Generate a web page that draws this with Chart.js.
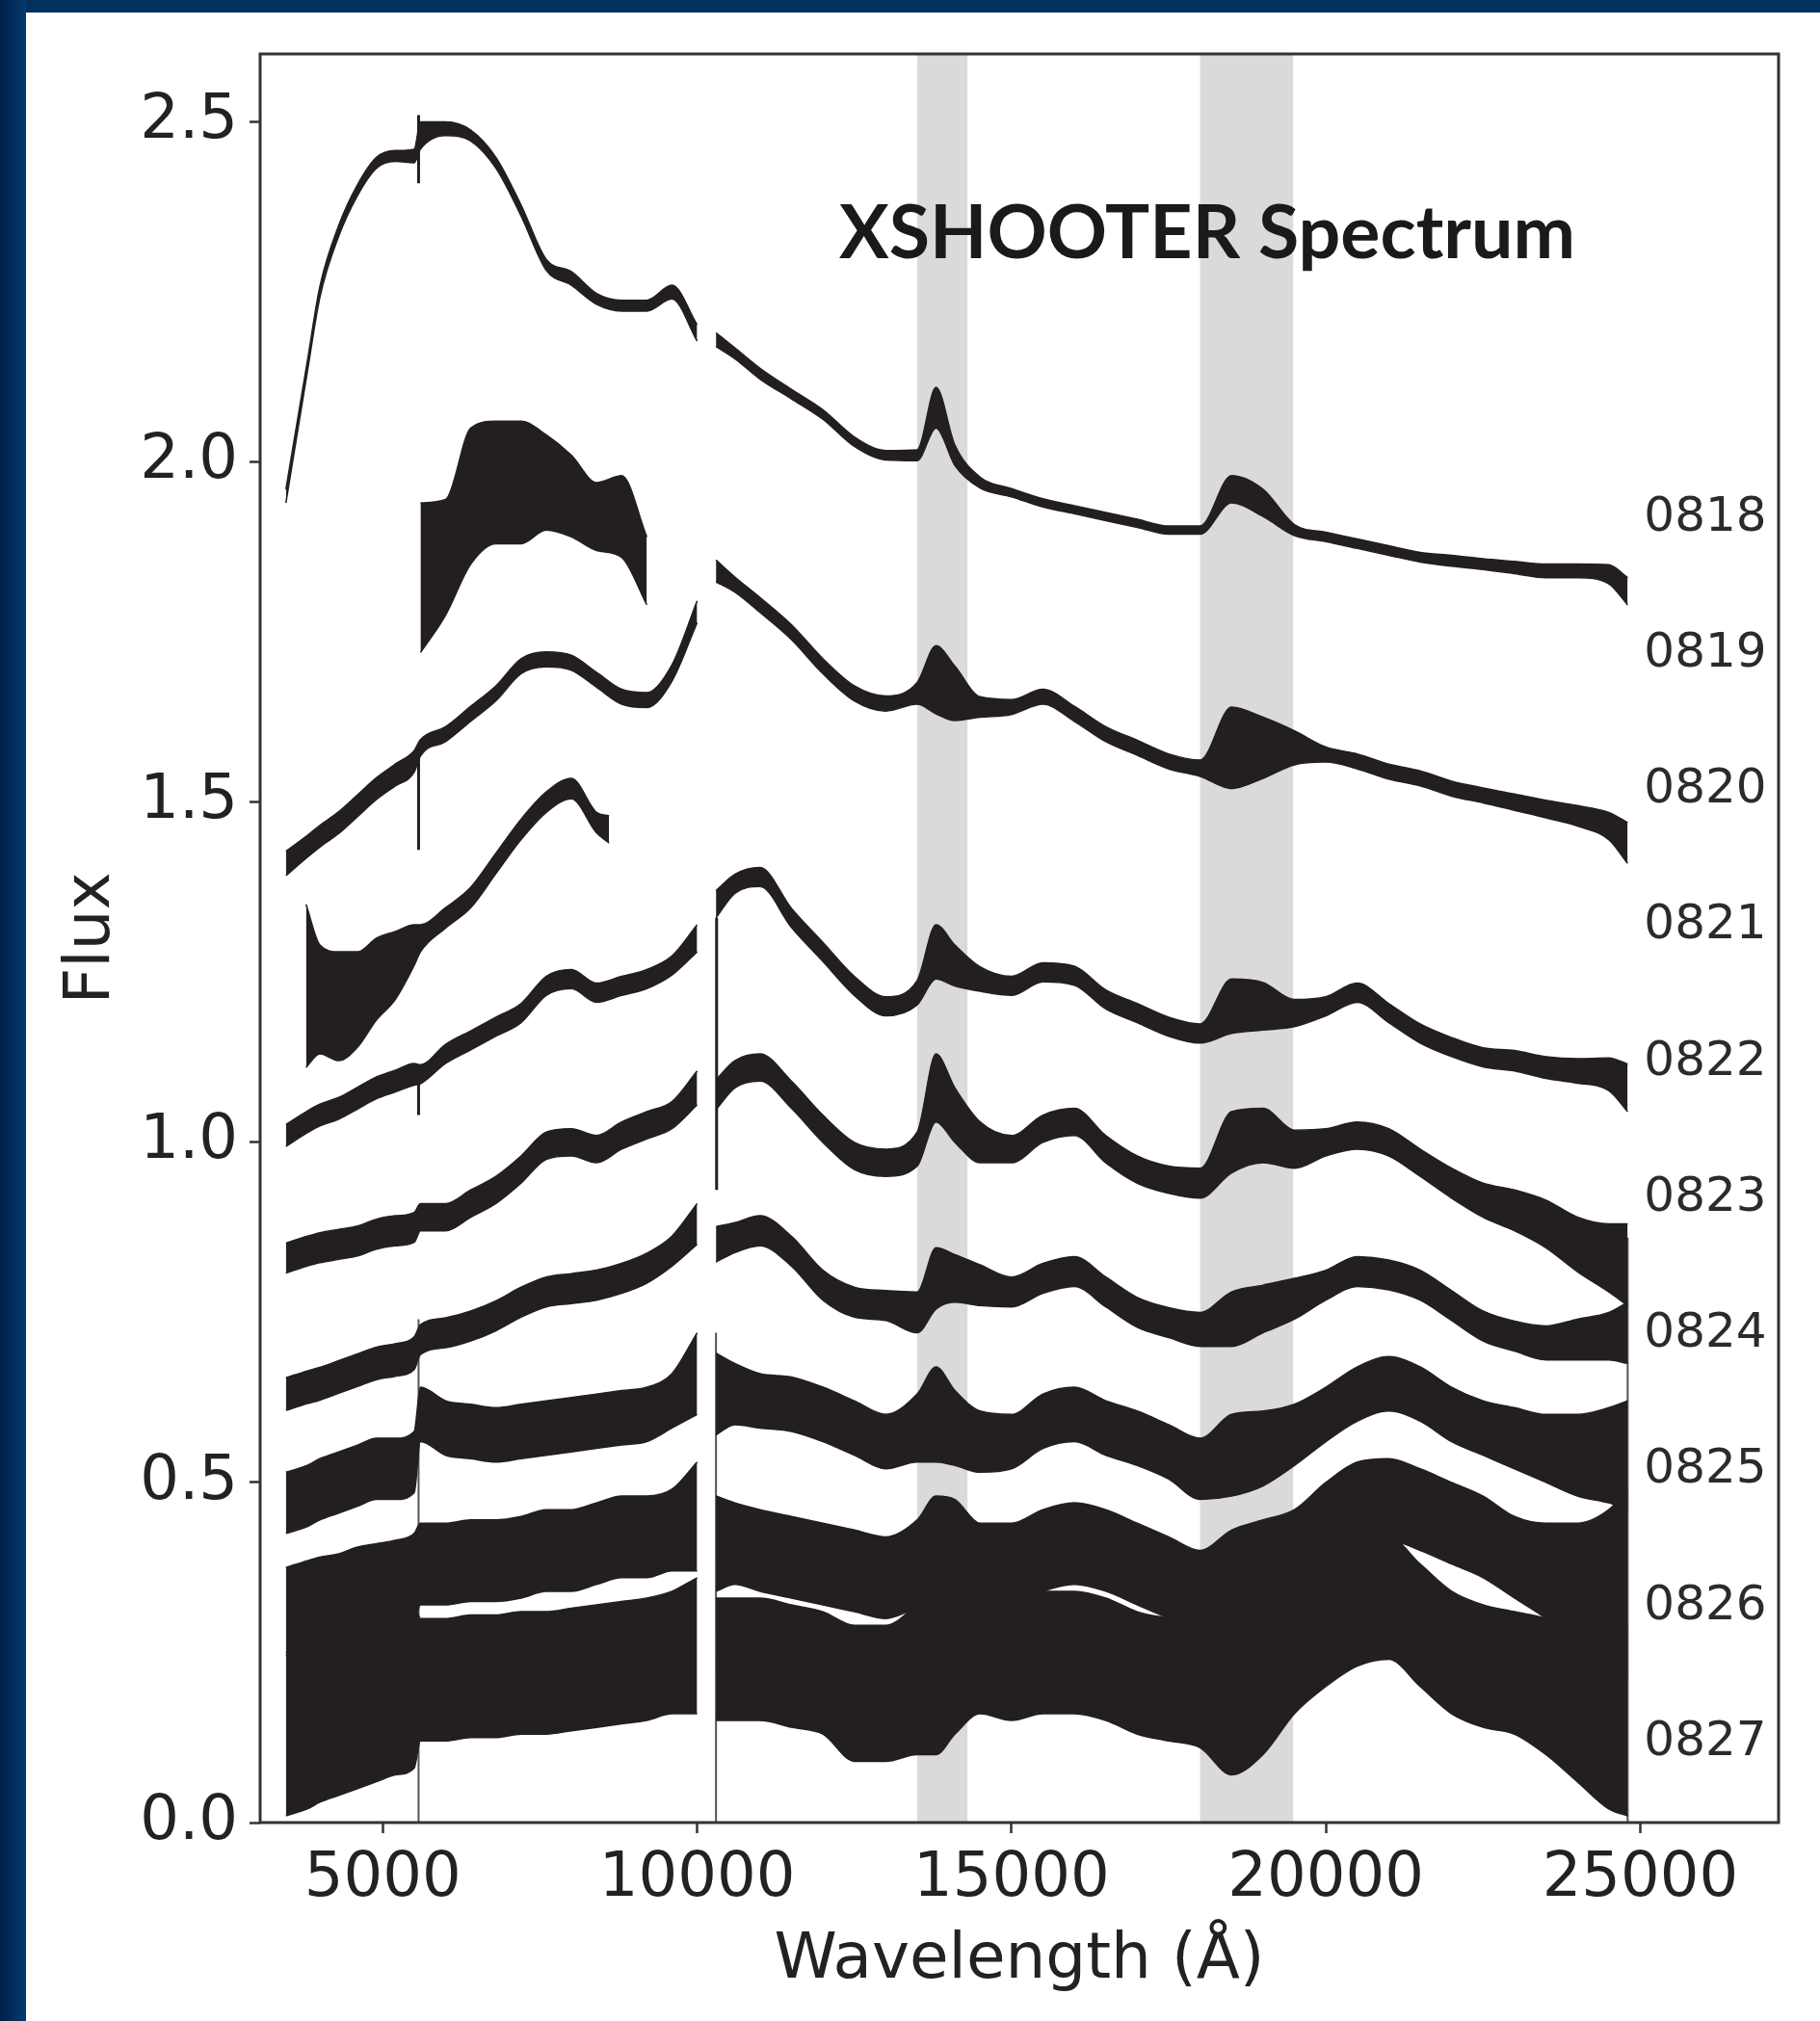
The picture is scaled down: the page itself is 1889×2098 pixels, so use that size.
<!DOCTYPE html>
<html>
<head>
<meta charset="utf-8">
<script src="https://cdn.jsdelivr.net/npm/chart.js@4.4.1/dist/chart.umd.min.js"></script>
<style>
  html, body { margin: 0; padding: 0; width: 1889px; height: 2098px; overflow: hidden; background: #02305f; }
  #edge { position: absolute; left: 0; top: 0; width: 27px; height: 2098px; background: linear-gradient(to right, #00214a, #063a6e); }
  #panel { position: absolute; left: 27px; top: 13px; right: 0; bottom: 0; background: #fff; }
  #chart { position: absolute; left: 0; top: 0; }
</style>
</head>
<body>
<div id="edge"></div>
<div id="panel"></div>
<canvas id="chart" width="1889" height="2098"></canvas>
<script>
// shared wavelength grid (Å); null column at 10150 = VIS/NIR gap
const WL = [3460,3800,4000,4300,4600,4900,5200,5500,
  5600,6000,6400,6800,7200,7600,8000,8400,8800,9200,9600,10000,
  10150,
  10300,10600,11000,11500,12000,12500,13000,13500,13800,14100,14500,15000,15500,16000,16500,17000,17500,18000,18500,19000,19500,20000,20500,21000,21500,22000,22500,23000,23500,24000,24500,24800];

// flux (offset) and noise half-width
const F0818 = [1.95,2.14,2.25,2.34,2.40,2.44,2.45,2.45, 2.48,2.49,2.48,2.44,2.37,2.29,2.27,2.24,2.23,2.23,2.25,2.19, null, 2.18,2.16,2.13,2.10,2.07,2.03,2.01,2.01,2.08,2.01,1.97,1.955,1.94,1.93,1.92,1.91,1.90,1.90,1.96,1.94,1.90,1.89,1.88,1.87,1.86,1.855,1.85,1.845,1.84,1.84,1.835,1.81];
const S0818 = [0.01,0.008,0.008,0.008,0.008,0.008,0.008,0.01, 0.02,0.01,0.008,0.008,0.008,0.008,0.01,0.008,0.008,0.008,0.01,0.012, null, 0.01,0.008,0.008,0.007,0.007,0.007,0.007,0.008,0.03,0.015,0.008,0.006,0.006,0.006,0.006,0.006,0.006,0.006,0.02,0.02,0.008,0.007,0.007,0.007,0.007,0.008,0.008,0.009,0.01,0.01,0.014,0.02];

const WL0819 = [5600,6000,6400,6800,7200,7600,8000,8400,8800,9200];
const F0819 = [1.83,1.86,1.95,1.97,1.97,1.97,1.95,1.92,1.92,1.84];
const S0819 = [0.11,0.085,0.10,0.09,0.09,0.07,0.06,0.05,0.06,0.05];

const F0820 = [1.41,1.435,1.45,1.47,1.495,1.52,1.54,1.56, 1.58,1.60,1.63,1.66,1.70,1.71,1.705,1.68,1.655,1.65,1.69,1.78, null, 1.84,1.82,1.79,1.75,1.70,1.66,1.645,1.66,1.68,1.66,1.64,1.64,1.655,1.63,1.60,1.58,1.56,1.55,1.58,1.58,1.58,1.57,1.56,1.545,1.535,1.52,1.51,1.50,1.49,1.48,1.465,1.44];
const S0820 = [0.018,0.016,0.016,0.016,0.016,0.016,0.016,0.016, 0.012,0.011,0.011,0.011,0.011,0.011,0.011,0.011,0.011,0.011,0.012,0.016, null, 0.016,0.011,0.011,0.011,0.011,0.011,0.011,0.016,0.05,0.04,0.015,0.011,0.011,0.011,0.011,0.011,0.011,0.012,0.06,0.045,0.025,0.011,0.011,0.011,0.011,0.011,0.011,0.012,0.013,0.015,0.02,0.03];

const WL0821 = [3780,4000,4300,4600,4900,5200,5500,5600,6000,6400,6800,7200,7600,8000,8400,8600];
const F0821 = [1.23,1.21,1.20,1.21,1.24,1.26,1.29,1.30,1.33,1.36,1.41,1.46,1.50,1.52,1.47,1.46];
const S0821 = [0.12,0.08,0.08,0.07,0.06,0.05,0.03,0.02,0.015,0.015,0.015,0.015,0.015,0.015,0.015,0.02];

const F0822 = [1.01,1.03,1.04,1.05,1.065,1.08,1.09,1.10, 1.10,1.13,1.15,1.17,1.19,1.23,1.24,1.22,1.23,1.24,1.26,1.30, null, 1.35,1.38,1.39,1.33,1.28,1.23,1.20,1.22,1.28,1.26,1.24,1.23,1.25,1.245,1.21,1.19,1.17,1.16,1.20,1.20,1.19,1.20,1.22,1.19,1.16,1.14,1.125,1.12,1.11,1.105,1.10,1.08];
const S0822 = [0.016,0.016,0.016,0.016,0.016,0.016,0.016,0.016, 0.014,0.014,0.014,0.014,0.014,0.014,0.014,0.014,0.014,0.014,0.014,0.02, null, 0.02,0.014,0.014,0.014,0.014,0.014,0.014,0.018,0.04,0.03,0.018,0.014,0.014,0.014,0.014,0.014,0.014,0.014,0.04,0.035,0.02,0.014,0.014,0.014,0.014,0.014,0.014,0.015,0.016,0.018,0.024,0.035];

const F0823 = [0.83,0.84,0.845,0.85,0.855,0.865,0.87,0.875, 0.89,0.89,0.91,0.93,0.96,0.995,1.00,0.99,1.01,1.025,1.04,1.08, null, 1.07,1.10,1.11,1.07,1.02,0.98,0.97,0.99,1.08,1.04,1.00,0.99,1.02,1.03,0.99,0.96,0.945,0.94,1.00,1.01,0.99,1.00,1.01,1.00,0.97,0.94,0.915,0.90,0.88,0.85,0.83,0.82];
const S0823 = [0.022,0.022,0.022,0.022,0.022,0.022,0.022,0.022, 0.02,0.02,0.02,0.02,0.02,0.02,0.02,0.02,0.02,0.02,0.02,0.025, null, 0.022,0.02,0.02,0.02,0.02,0.02,0.02,0.025,0.05,0.04,0.03,0.02,0.02,0.02,0.02,0.02,0.02,0.022,0.045,0.04,0.028,0.02,0.02,0.02,0.02,0.022,0.025,0.03,0.035,0.04,0.05,0.06];

const F0824 = [0.63,0.64,0.645,0.655,0.665,0.675,0.68,0.69, 0.71,0.72,0.73,0.745,0.765,0.78,0.785,0.79,0.80,0.815,0.84,0.88, null, 0.85,0.86,0.87,0.84,0.79,0.765,0.76,0.75,0.80,0.80,0.79,0.78,0.80,0.81,0.78,0.75,0.735,0.725,0.74,0.755,0.77,0.79,0.81,0.805,0.79,0.76,0.73,0.715,0.705,0.71,0.715,0.72];
const S0824 = [0.024,0.024,0.024,0.024,0.024,0.024,0.024,0.024, 0.022,0.022,0.022,0.022,0.022,0.022,0.022,0.022,0.022,0.022,0.022,0.03, null, 0.026,0.022,0.022,0.022,0.022,0.022,0.022,0.03,0.045,0.035,0.03,0.022,0.022,0.022,0.022,0.022,0.022,0.025,0.04,0.035,0.03,0.022,0.022,0.022,0.022,0.022,0.022,0.022,0.025,0.03,0.035,0.045];

const F0825 = [0.47,0.48,0.49,0.50,0.51,0.52,0.52,0.53, 0.60,0.58,0.575,0.57,0.575,0.58,0.585,0.59,0.595,0.60,0.62,0.66, null, 0.63,0.63,0.62,0.615,0.60,0.58,0.56,0.58,0.60,0.58,0.56,0.56,0.59,0.60,0.58,0.565,0.545,0.52,0.54,0.55,0.57,0.60,0.63,0.645,0.63,0.60,0.58,0.565,0.55,0.54,0.54,0.54];
const S0825 = [0.045,0.045,0.045,0.045,0.045,0.045,0.045,0.045, 0.04,0.04,0.04,0.04,0.04,0.04,0.04,0.04,0.04,0.04,0.04,0.06, null, 0.06,0.045,0.04,0.04,0.04,0.04,0.04,0.05,0.07,0.055,0.045,0.04,0.04,0.04,0.04,0.04,0.04,0.045,0.06,0.055,0.045,0.04,0.04,0.04,0.04,0.04,0.04,0.045,0.05,0.06,0.07,0.08];

const F0826 = [0.31,0.32,0.325,0.33,0.34,0.345,0.35,0.36, 0.38,0.38,0.385,0.385,0.39,0.40,0.40,0.41,0.42,0.42,0.43,0.45, null, 0.41,0.41,0.40,0.39,0.38,0.37,0.36,0.38,0.40,0.40,0.38,0.38,0.40,0.41,0.40,0.38,0.36,0.34,0.35,0.37,0.40,0.44,0.47,0.475,0.46,0.44,0.42,0.39,0.37,0.35,0.35,0.35];
const S0826 = [0.065,0.065,0.065,0.065,0.065,0.065,0.065,0.065, 0.06,0.06,0.06,0.06,0.06,0.06,0.06,0.06,0.06,0.06,0.06,0.08, null, 0.07,0.06,0.06,0.06,0.06,0.06,0.06,0.065,0.08,0.075,0.06,0.06,0.06,0.06,0.06,0.06,0.06,0.06,0.08,0.075,0.06,0.06,0.06,0.06,0.06,0.06,0.06,0.06,0.07,0.09,0.11,0.14];

const F0827 = [0.13,0.14,0.15,0.16,0.17,0.18,0.19,0.20, 0.21,0.21,0.215,0.215,0.22,0.22,0.225,0.23,0.235,0.24,0.25,0.26, null, 0.24,0.24,0.24,0.23,0.22,0.19,0.19,0.21,0.22,0.24,0.25,0.24,0.25,0.25,0.24,0.22,0.21,0.20,0.19,0.21,0.25,0.29,0.32,0.33,0.29,0.25,0.23,0.22,0.20,0.17,0.15,0.15];
const S0827 = [0.12,0.12,0.12,0.12,0.12,0.12,0.12,0.12, 0.09,0.09,0.09,0.09,0.09,0.09,0.09,0.09,0.09,0.09,0.09,0.1, null, 0.09,0.09,0.09,0.09,0.09,0.1,0.1,0.11,0.12,0.11,0.09,0.09,0.09,0.09,0.09,0.09,0.09,0.09,0.12,0.11,0.09,0.09,0.09,0.09,0.09,0.09,0.09,0.09,0.1,0.11,0.13,0.14];

// arm joins where some spectra drop to zero
const DROP_WL = [5570, 10300, 24800];
const DROP_TOP = [0.74, 0.72, 0.86];
// single-pixel spikes at the arm joins
const SPIKE_WL = [5570, 5570, 5570, 10310, 10310];
const SPIKE_LO = [2.41, 1.43, 1.04, 1.07, 0.93];
const SPIKE_HI = [2.51, 1.57, 1.10, 1.33, 1.08];

const NAMES = ['0818','0819','0820','0821','0822','0823','0824','0825','0826','0827'];
const LABEL_Y = [1.925,1.725,1.525,1.325,1.125,0.925,0.725,0.525,0.325,0.125];
const LABEL_WL = 25060;
const BANDS = [[13500, 14300], [18000, 19480]];
const X_TICKS = [5000, 10000, 15000, 20000, 25000];
const Y_TICKS = [0, 0.5, 1.0, 1.5, 2.0, 2.5];
const TITLE = 'XSHOOTER Spectrum';
const TITLE_AT = [12260, 2.30];

const SPECTRA = [
  [WL, F0818, S0818], [WL0819, F0819, S0819], [WL, F0820, S0820], [WL0821, F0821, S0821],
  [WL, F0822, S0822], [WL, F0823, S0823], [WL, F0824, S0824], [WL, F0825, S0825],
  [WL, F0826, S0826], [WL, F0827, S0827]
];

const INK = '#231f20';
const edge = ([wl, f, s], sign) => wl.map((x, i) => ({ x, y: f[i] == null ? null : f[i] + sign * s[i] }));
const line = { pointRadius: 0, spanGaps: false, cubicInterpolationMode: 'monotone' };

const datasets = [];
SPECTRA.forEach(sp => {
  datasets.push({ ...line, data: edge(sp, 1), fill: '+1', backgroundColor: INK, borderColor: INK, borderWidth: 1.5 });
  datasets.push({ ...line, data: edge(sp, -1), fill: false, borderColor: INK, borderWidth: 1.5 });
});
const drops = [];
DROP_WL.forEach((x, i) => { drops.push({ x, y: DROP_TOP[i] }, { x, y: 0 }, { x, y: null }); });
datasets.push({ data: drops, fill: false, borderColor: '#555', borderWidth: 2, pointRadius: 0, spanGaps: false });
const spikes = [];
SPIKE_WL.forEach((x, i) => { spikes.push({ x, y: SPIKE_HI[i] }, { x, y: SPIKE_LO[i] }, { x, y: null }); });
datasets.push({ data: spikes, fill: false, borderColor: INK, borderWidth: 3, pointRadius: 0, spanGaps: false });

const decor = {
  id: 'decor',
  beforeDatasetsDraw(chart) {
    const { ctx, chartArea: a, scales: { x } } = chart;
    ctx.save();
    ctx.fillStyle = '#dadadd';
    BANDS.forEach(([lo, hi]) => {
      const l = x.getPixelForValue(lo);
      ctx.fillRect(l, a.top, x.getPixelForValue(hi) - l, a.bottom - a.top);
    });
    ctx.restore();
  },
  afterDraw(chart) {
    const { ctx, chartArea: a, scales: { x, y } } = chart;
    ctx.save();
    ctx.strokeStyle = '#333';
    ctx.lineWidth = 3;
    ctx.strokeRect(a.left, a.top, a.right - a.left, a.bottom - a.top);

    ctx.fillStyle = '#2b2b2b';
    ctx.font = '50px "DejaVu Sans"';
    ctx.textBaseline = 'alphabetic';
    NAMES.forEach((n, i) => ctx.fillText(n, x.getPixelForValue(LABEL_WL), y.getPixelForValue(LABEL_Y[i]) + 18));

    ctx.font = 'bold 100px Lato';
    const w = ctx.measureText(TITLE).width;
    ctx.font = 'bold ' + (100 * 764 / w).toFixed(1) + 'px Lato';
    ctx.fillStyle = '#1a1a1a';
    ctx.fillText(TITLE, x.getPixelForValue(TITLE_AT[0]), y.getPixelForValue(TITLE_AT[1]));
    ctx.restore();
  }
};

const tickFont = { family: 'DejaVu Sans', size: 64 };
new Chart(document.getElementById('chart'), {
  type: 'line',
  data: { datasets },
  options: {
    responsive: false,
    animation: false,
    devicePixelRatio: 1,
    layout: { padding: { left: 0, top: 56, right: 43, bottom: 0 } },
    plugins: { legend: { display: false }, tooltip: { enabled: false } },
    scales: {
      x: {
        type: 'linear', min: 3050, max: 27200,
        afterBuildTicks: s => { s.ticks = X_TICKS.map(v => ({ value: v })); },
        afterFit: s => { s.height = 206; },
        ticks: { font: tickFont, color: '#222', padding: 10, maxRotation: 0, autoSkip: false, callback: v => String(v) },
        grid: { drawOnChartArea: false, tickLength: 11, tickColor: '#333', tickWidth: 2.5 },
        border: { display: false },
        title: { display: true, text: 'Wavelength (Å)', font: { family: 'DejaVu Sans', size: 66 }, color: '#222', padding: { top: 0, bottom: 23 } }
      },
      y: {
        type: 'linear', min: 0, max: 2.6,
        afterBuildTicks: s => { s.ticks = Y_TICKS.map(v => ({ value: v })); },
        afterFit: s => { s.width = 270; },
        ticks: { font: tickFont, color: '#222', padding: 12, autoSkip: false, callback: v => v.toFixed(1) },
        grid: { drawOnChartArea: false, tickLength: 11, tickColor: '#333', tickWidth: 2.5 },
        border: { display: false },
        title: { display: true, text: 'Flux', font: { family: 'DejaVu Sans', size: 66 }, color: '#222', padding: { top: 56, bottom: 0 } }
      }
    }
  },
  plugins: [decor]
});
</script>
</body>
</html>
